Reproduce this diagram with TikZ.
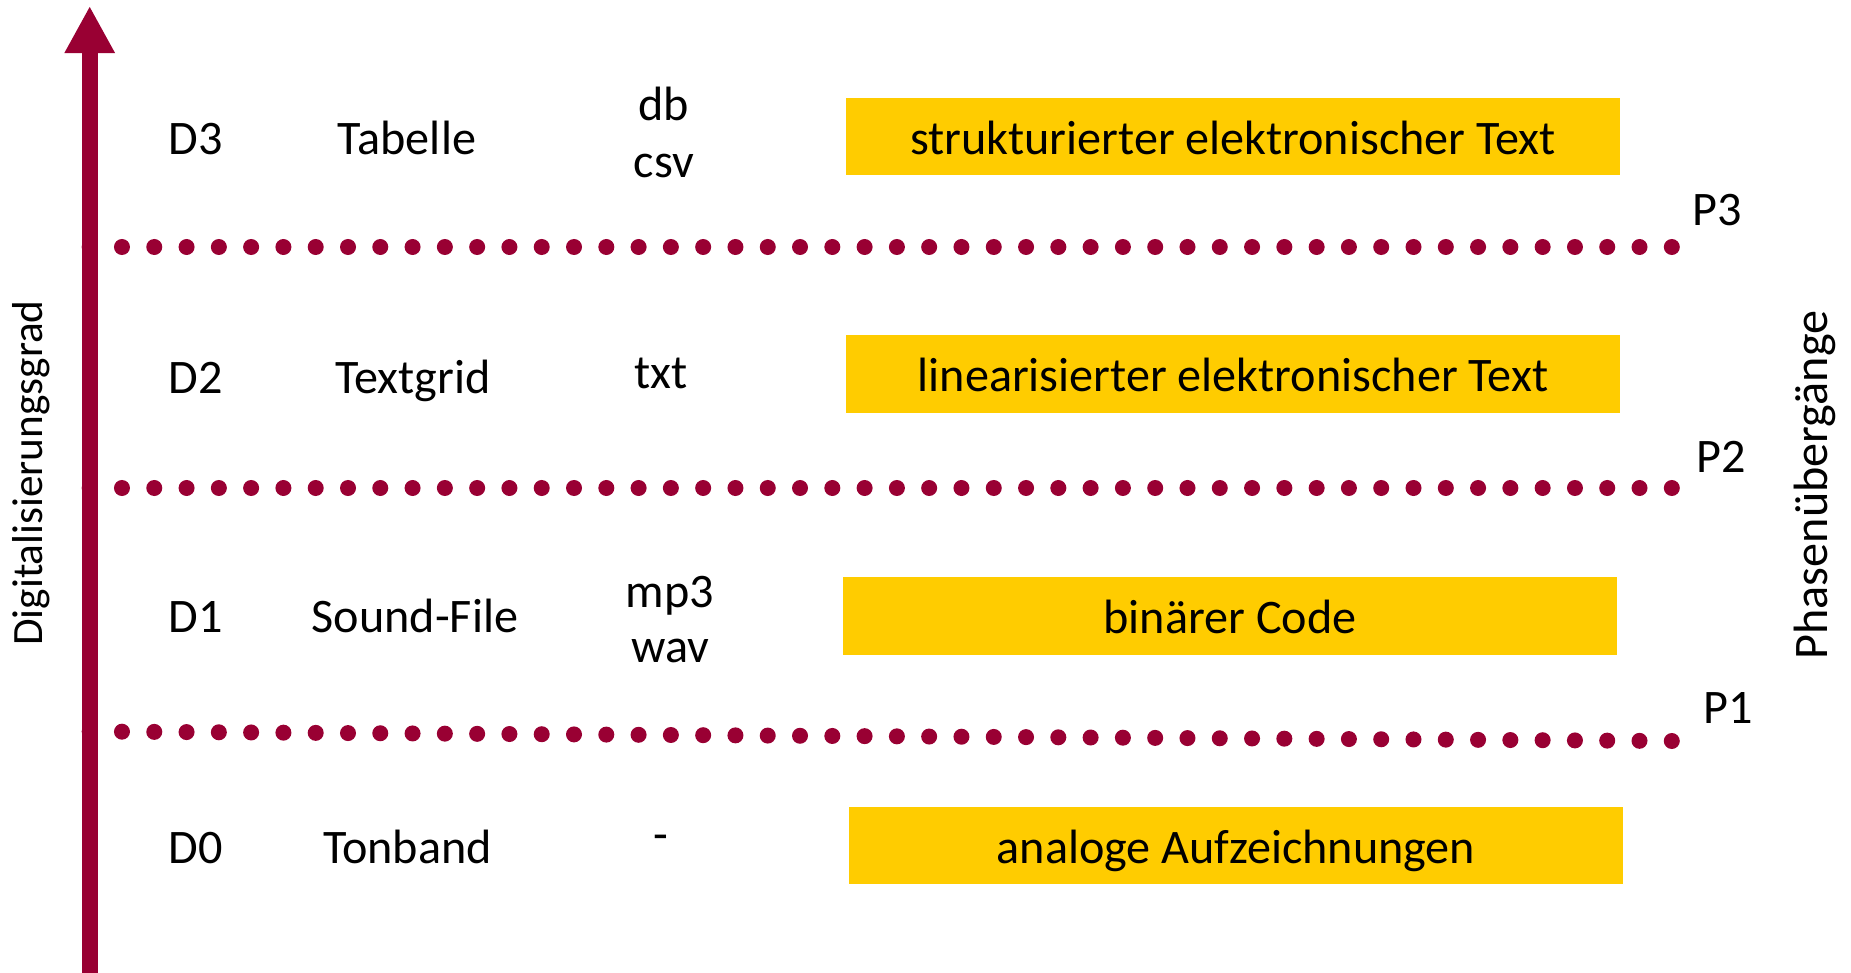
\documentclass[tikz,border=0pt]{standalone}
\usepackage{fontspec}
\setmainfont{Carlito}
\definecolor{levelred}{RGB}{153, 0, 51}
\definecolor{boxyellow}{RGB}{255, 204, 0}
\usetikzlibrary{arrows.meta}

\begin{document}
\begin{tikzpicture}[x=0.01cm, y=-0.01cm,
  lbl/.style={font=\fontsize{13.7}{16.2}\selectfont, inner sep=0pt, anchor=base},
  stage/.style={fill=boxyellow, minimum width=7.74cm, minimum height=0.77cm, inner sep=0pt,
    text height=0.35cm, text depth=0pt, font=\fontsize{13.7}{16.2}\selectfont},
  phase/.style={draw=levelred, line width=0.16cm, line cap=round, dash pattern=on 0pt off 0.3227cm}]
  \useasboundingbox (0,0) rectangle (1851,973);

  % Phase transitions
  \coordinate (pthreeL) at (89.7,247);
  \coordinate (pthreeR) at (1672,247);
  \coordinate (ptwoL) at (89.7,488);
  \coordinate (ptwoR) at (1672,488);
  \coordinate (poneL) at (89.7,731.5);
  \coordinate (poneR) at (1672,741);
  \draw[phase] (pthreeL) -- (pthreeR);
  \draw[phase] (ptwoL) -- (ptwoR);
  \draw[phase] (poneL) -- (poneR);
  \node[lbl] (pthree) at (1717,226) {P3};
  \node[lbl] (ptwo) at (1721,472.5) {P2};
  \node[lbl] (pone) at (1728,723) {P1};

  % Axis
  \coordinate (axisbase) at (89.7,973);
  \coordinate (axistop) at (89.7,6);
  \draw[levelred, line width=0.16cm, -{Triangle[width=0.47cm, length=0.47cm]}] (axisbase) -- (axistop);
  \node[lbl, rotate=90, font=\fontsize{12.3}{15}\selectfont] (grad) at (42,473) {Digitalisierungsgrad};
  \node[lbl, rotate=90] (phasen) at (1827,485) {Phasenübergänge};

  % Levels
  \node[lbl] (dthree) at (195.5,155) {D3};
  \node[lbl] (dtwo) at (195.5,393.5) {D2};
  \node[lbl] (done) at (195.5,632) {D1};
  \node[lbl] (dzero) at (195.5,863) {D0};

  % Media
  \node[lbl] (tabelle) at (407,155) {Tabelle};
  \node[lbl] (textgrid) at (413,393.5) {Textgrid};
  \node[lbl] (soundfile) at (415,632) {Sound-File};
  \node[lbl] (tonband) at (407.5,863) {Tonband};

  % Formats
  \node[lbl] (db) at (664,121) {db};
  \node[lbl] (csv) at (664,178) {csv};
  \node[lbl] (txt) at (661,389) {txt};
  \node[lbl] (mpthree) at (670,607) {mp3};
  \node[lbl] (wav) at (670.5,662) {wav};
  \node[lbl] (none) at (661,850) {-};

  % Stages
  \node[stage] (structured) at (1233,136.5) {strukturierter elektronischer Text};
  \node[stage] (linear) at (1233,374) {linearisierter elektronischer Text};
  \node[stage] (binary) at (1230,616) {binärer Code};
  \node[stage] (analog) at (1236,845.5) {analoge Aufzeichnungen};
\end{tikzpicture}
\end{document}
